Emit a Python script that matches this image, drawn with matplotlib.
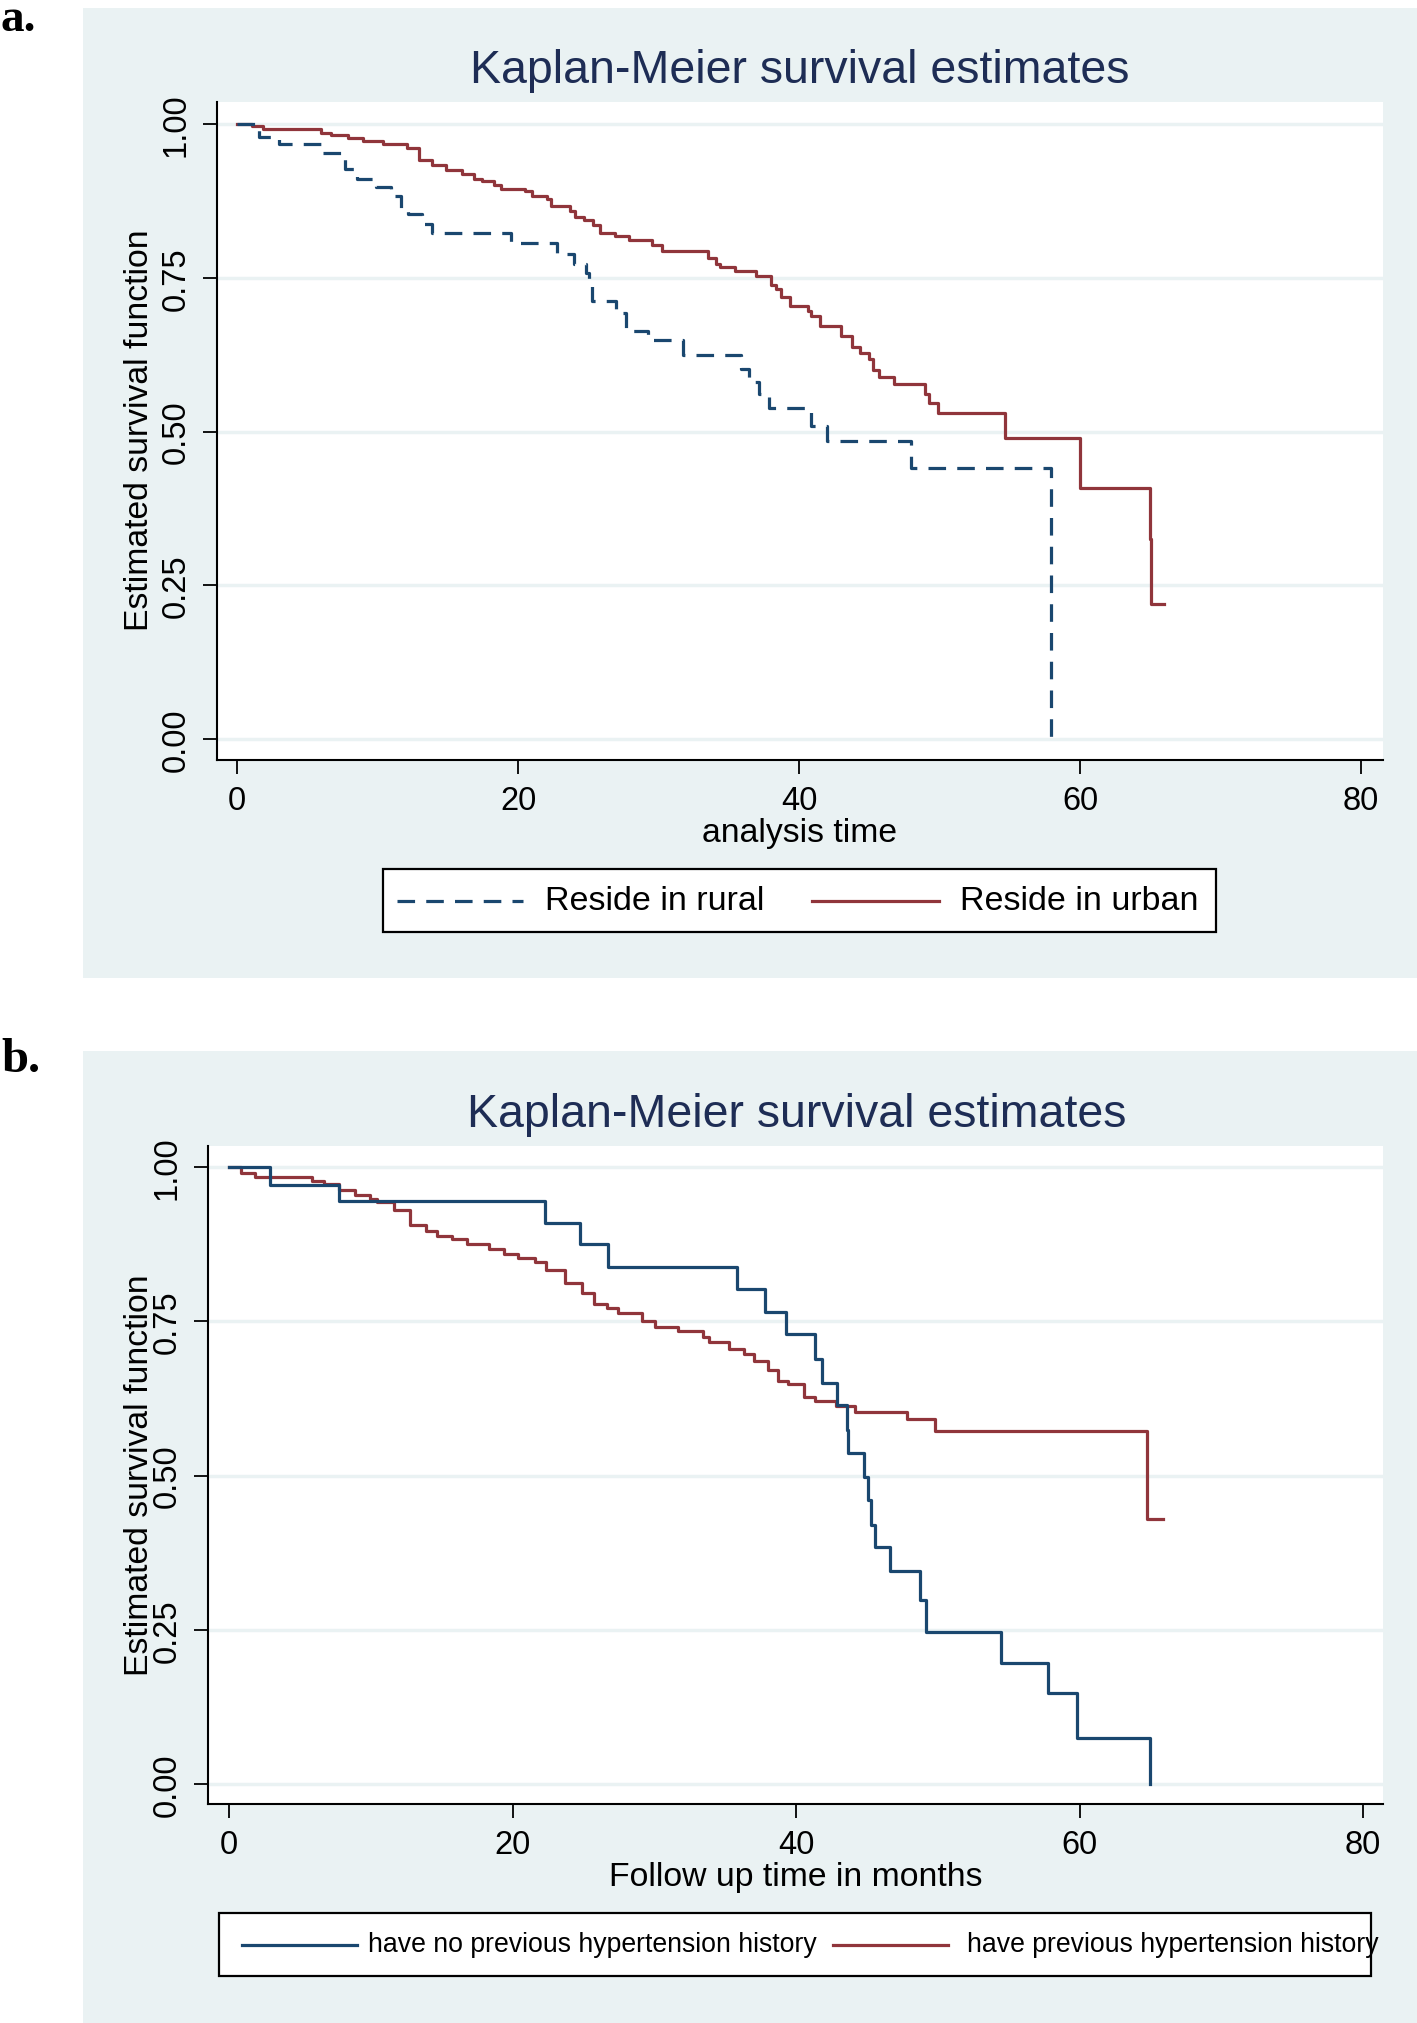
import matplotlib
matplotlib.use('Agg')
import matplotlib.pyplot as plt
from matplotlib.patches import Rectangle
from matplotlib.lines import Line2D

plt.rcParams['font.family'] = ['Liberation Sans', 'DejaVu Sans']

# ---- panel a: residence ----
rural_t = [0, 1.55, 2.95, 6.05, 7.65, 8.55, 9.85, 10.95, 11.65, 12.15, 13.15, 13.85,
           19.45, 22.75, 23.95, 24.85, 25.05, 25.25, 26.95, 27.65, 29.25, 31.75, 35.85,
           36.45, 37.15, 37.85, 40.85, 41.95, 47.95, 57.95]
rural_s = [1.0, 0.979, 0.968, 0.953, 0.926, 0.911, 0.898, 0.883, 0.864, 0.853, 0.838,
           0.823, 0.806, 0.788, 0.772, 0.758, 0.742, 0.712, 0.693, 0.664, 0.649, 0.624,
           0.601, 0.580, 0.561, 0.538, 0.509, 0.484, 0.440, 0.0]

urban_t = [0, 1.05, 1.85, 5.95, 6.65, 7.85, 8.95, 10.35, 12.1, 12.95, 13.85, 14.85, 16.0,
           16.85, 17.45, 18.25, 18.75, 20.45, 20.95, 22.05, 22.35, 23.65, 24.05, 24.65,
           25.35, 25.85, 26.85, 27.9, 29.55, 30.25, 33.5, 34.05, 34.35, 35.45, 36.9, 38.0,
           38.35, 38.7, 39.35, 40.65, 40.85, 41.45, 42.95, 43.75, 44.3, 44.95, 45.25,
           45.65, 46.75, 48.95, 49.2, 49.85, 54.65, 59.95, 64.95, 65.05, 65.95]
urban_s = [1.0, 0.996, 0.991, 0.986, 0.982, 0.977, 0.972, 0.968, 0.961, 0.941, 0.934,
           0.925, 0.918, 0.911, 0.907, 0.900, 0.895, 0.891, 0.883, 0.878, 0.866, 0.858,
           0.849, 0.844, 0.835, 0.823, 0.818, 0.812, 0.804, 0.793, 0.782, 0.773, 0.767,
           0.761, 0.753, 0.739, 0.731, 0.718, 0.704, 0.696, 0.688, 0.672, 0.656, 0.637,
           0.628, 0.618, 0.600, 0.588, 0.578, 0.561, 0.547, 0.530, 0.489, 0.408, 0.325,
           0.219, 0.219]

# ---- panel b: hypertension history ----
nohtn_t = [0, 2.85, 7.75, 22.3, 24.75, 26.75, 35.85, 37.8, 39.25, 41.35, 41.85, 42.85,
           43.55, 43.65, 44.8, 45.05, 45.25, 45.55, 46.65, 48.75, 49.15, 54.45, 57.8,
           59.8, 64.95]
nohtn_s = [1.0, 0.972, 0.946, 0.909, 0.875, 0.839, 0.803, 0.765, 0.729, 0.689, 0.650,
           0.614, 0.574, 0.537, 0.497, 0.460, 0.420, 0.384, 0.346, 0.298, 0.247, 0.197,
           0.147, 0.075, 0.0]

htn_t = [0, 0.85, 1.8, 5.85, 6.65, 7.75, 8.85, 9.9, 10.45, 11.65, 12.75, 13.85, 14.65,
         15.75, 16.8, 18.3, 19.35, 20.35, 21.55, 22.35, 23.7, 24.9, 25.75, 26.65, 27.45,
         29.1, 30.05, 31.65, 33.45, 33.85, 35.25, 36.35, 37.05, 38.0, 38.7, 39.45, 40.55,
         41.3, 42.8, 44.15, 47.85, 49.8, 64.75, 65.85]
htn_s = [1.0, 0.991, 0.984, 0.977, 0.973, 0.963, 0.955, 0.948, 0.943, 0.930, 0.906,
         0.897, 0.889, 0.883, 0.876, 0.868, 0.860, 0.853, 0.846, 0.833, 0.813, 0.796,
         0.778, 0.772, 0.763, 0.751, 0.741, 0.735, 0.725, 0.717, 0.705, 0.697, 0.686,
         0.671, 0.654, 0.649, 0.628, 0.621, 0.613, 0.604, 0.592, 0.573, 0.429, 0.429]

xticks = [0, 20, 40, 60, 80]
yticks = [0, 0.25, 0.5, 0.75, 1.0]
ytick_labels = ['0.00', '0.25', '0.50', '0.75', '1.00']

title = 'Kaplan-Meier survival estimates'
ylab = 'Estimated survival function'

W, H = 1417, 2024
BG = '#eaf2f3'
NAVY = '#1a476f'
MAROON = '#90353b'
TITLE_C = '#1e2d55'


def fx(px):
    return px / W


def fy(py):
    return 1 - py / H


fig = plt.figure(figsize=(W / 100, H / 100), dpi=100)
fig.patch.set_facecolor('white')

# panel backgrounds (behind the axes)
for top, bot in [(9, 979), (1052, 2024)]:
    fig.patches.append(Rectangle((fx(83), fy(bot)), fx(W) - fx(83), (bot - top) / H,
                                 transform=fig.transFigure, facecolor=BG,
                                 edgecolor='none', zorder=-5))


def make_axes(x0, x1, y0, y1, xlim, ylim):
    ax = fig.add_axes([fx(x0), fy(y1), (x1 - x0) / W, (y1 - y0) / H])
    ax.set_zorder(1)
    ax.set_facecolor('white')
    ax.set_xlim(*xlim)
    ax.set_ylim(*ylim)
    for s in ['top', 'right']:
        ax.spines[s].set_visible(False)
    for s in ['left', 'bottom']:
        ax.spines[s].set_linewidth(1.5)
        ax.spines[s].set_color('black')
    ax.set_xticks(xticks)
    ax.set_yticks(yticks)
    ax.set_yticklabels(ytick_labels, rotation=90, va='center')
    ax.tick_params(axis='both', direction='out', length=10, width=1.3,
                   labelsize=23.5, pad=8)
    for y in yticks:
        ax.axhline(y, color=BG, lw=2.5, zorder=0.5)
    return ax


def legend_box(x0, x1, y0, y1):
    fig.patches.append(Rectangle((fx(x0), fy(y1)), (x1 - x0) / W, (y1 - y0) / H,
                                 transform=fig.transFigure, facecolor='white',
                                 edgecolor='black', lw=1.6, zorder=3))


def legend_line(x0, x1, y, color, dashed=False):
    ln = Line2D([fx(x0), fx(x1)], [y, y], transform=fig.transFigure, color=color,
                lw=2.3, zorder=4)
    if dashed:
        ln.set_dashes((5.5, 3.5))
    fig.lines.append(ln)


# ---- panel a ----
ax1 = make_axes(216.5, 1383, 103, 761, (-1.48, 81.55), (-0.034, 1.0357))
ax1.step(urban_t, urban_s, where='post', color=MAROON, lw=2.3, zorder=3)
l, = ax1.step(rural_t, rural_s, where='post', color=NAVY, lw=2.3, zorder=3)
l.set_dashes((5.5, 3.5))

fig.text(fx(800), fy(71), title, ha='center', va='center', fontsize=33.5, color=TITLE_C)
fig.text(fx(800), fy(834), 'analysis time', ha='center', va='center', fontsize=24.3)
fig.text(fx(139), fy(430), ylab, rotation=90, ha='center', va='center', fontsize=24.3)
fig.text(fx(1), fy(31), 'a.', ha='left', va='baseline', fontsize=34,
         fontweight='bold', family=['Liberation Serif', 'DejaVu Serif'])

legend_box(383, 1216, 870, 933)
ly = fy(901.5)
legend_line(397, 523, ly, NAVY, dashed=True)
legend_line(812, 939, ly, MAROON)
fig.text(fx(545), ly, 'Reside in rural', ha='left', va='center', fontsize=24.5, zorder=5)
fig.text(fx(960), ly, 'Reside in urban', ha='left', va='center', fontsize=24.5, zorder=5)

# ---- panel b ----
ax2 = make_axes(207.7, 1383, 1147, 1805, (-1.52, 81.4), (-0.0324, 1.0345))
ax2.step(htn_t, htn_s, where='post', color=MAROON, lw=2.3, zorder=3)
ax2.step(nohtn_t, nohtn_s, where='post', color=NAVY, lw=2.3, zorder=3)

fig.text(fx(797), fy(1115), title, ha='center', va='center', fontsize=33.5, color=TITLE_C)
fig.text(fx(796), fy(1878), 'Follow up time in months', ha='center', va='center',
         fontsize=24.3)
fig.text(fx(139), fy(1475), ylab, rotation=90, ha='center', va='center', fontsize=24.3,
         zorder=5)
fig.text(fx(1), fy(1072), 'b.', ha='left', va='baseline', fontsize=35,
         fontweight='bold', family=['Liberation Serif', 'DejaVu Serif'])

legend_box(219, 1370.6, 1914, 1977)
ly = fy(1945.5)
legend_line(242, 357, ly, NAVY)
legend_line(833, 948, ly, MAROON)
fig.text(fx(368), ly, 'have no previous hypertension history', ha='left', va='center',
         fontsize=19.2, zorder=5)
fig.text(fx(967), ly, 'have previous hypertension history', ha='left', va='center',
         fontsize=19.2, zorder=5)

fig.savefig('out.png', dpi=100)
